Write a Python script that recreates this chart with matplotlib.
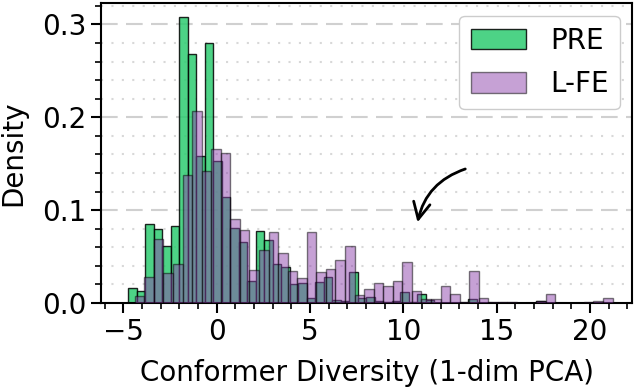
import numpy as np
import matplotlib
matplotlib.use("Agg")
import matplotlib.pyplot as plt
from matplotlib.ticker import MultipleLocator

# histogram bins (density)
pre_start, pre_width = -4.73, 0.455
pre_density = [0.0158, 0.0133, 0.0846, 0.0796, 0.061, 0.083, 0.3086, 0.2685, 0.158, 0.280,
               0.153, 0.114, 0.081, 0.0656, 0.0237, 0.078, 0.0677, 0.0416, 0.0384, 0.020,
               0.022, 0.005, 0.023, 0.0276, 0.003, 0.002, 0.033, 0.005, 0.007, 0.002,
               0.001, 0.002, 0.012, 0.001, 0.0093, 0.003, 0.0, 0.0, 0.0, 0.0,
               0.004, 0.0, 0.0, 0.0, 0.0, 0.0, 0.0, 0.0, 0.002, 0.0]

lfe_start, lfe_width = -4.39, 0.512
lfe_density = [0.0075, 0.0276, 0.0685, 0.032, 0.0416, 0.1376, 0.2065, 0.1427, 0.1656, 0.162,
               0.091, 0.0785, 0.036, 0.057, 0.076, 0.0534, 0.034, 0.027, 0.076, 0.033,
               0.037, 0.046, 0.061, 0.0086, 0.0147, 0.022, 0.018, 0.0237, 0.0437, 0.0129,
               0.004, 0.0043, 0.0186, 0.0093, 0.0014, 0.035, 0.0055, 0.0014, 0.0014, 0.001,
               0.0, 0.0, 0.0025, 0.0093, 0.0, 0.0, 0.0, 0.001, 0.0025, 0.0057]

labels = ["PRE", "L-FE"]

fig, ax = plt.subplots(figsize=(6.4, 3.92), dpi=100)
fig.subplots_adjust(left=0.158, right=0.9875, top=0.992, bottom=0.227)

pre_edges = pre_start + pre_width * np.arange(len(pre_density))
lfe_edges = lfe_start + lfe_width * np.arange(len(lfe_density))

ax.bar(pre_edges, pre_density, width=pre_width, align="edge",
       color="#2ecc71", alpha=0.85, edgecolor="black", linewidth=1.0, label=labels[0], zorder=2)
ax.bar(lfe_edges, lfe_density, width=lfe_width, align="edge",
       color="#8e44ad", alpha=0.5, edgecolor="black", linewidth=1.0, label=labels[1], zorder=3)

ax.set_xlim(-6.19, 22.25)
ax.set_ylim(0, 0.323)
ax.xaxis.set_major_locator(MultipleLocator(5))
ax.xaxis.set_minor_locator(MultipleLocator(1))
ax.yaxis.set_major_locator(MultipleLocator(0.1))
ax.yaxis.set_minor_locator(MultipleLocator(0.02))

ax.grid(axis="y", which="major", linestyle=(0, (8, 4)), color="#d0d0d0", linewidth=1.5, zorder=0)
ax.grid(axis="y", which="minor", linestyle=(0, (1, 4)), color="#d8d8d8", linewidth=1.5, zorder=0)
ax.set_axisbelow(True)

ax.tick_params(which="major", labelsize=20, length=7, width=1.5)
ax.tick_params(which="minor", length=4, width=1.2)
for s in ax.spines.values():
    s.set_linewidth(1.5)

ax.set_xlabel("Conformer Diversity (1-dim PCA)", fontsize=20, labelpad=10)
ax.set_ylabel("Density", fontsize=20, labelpad=11)

ax.annotate("", xy=(10.73, 0.084), xytext=(13.46, 0.1453),
            arrowprops=dict(arrowstyle="->", color="black", lw=2,
                            connectionstyle="arc3,rad=0.3", mutation_scale=30))

ax.legend(fontsize=20, loc="upper right", handlelength=2.0, handleheight=0.75,
          handletextpad=0.85, labelspacing=0.55, framealpha=1,
          edgecolor="#cccccc", borderaxespad=0.45)

fig.savefig("out.png", dpi=100)
